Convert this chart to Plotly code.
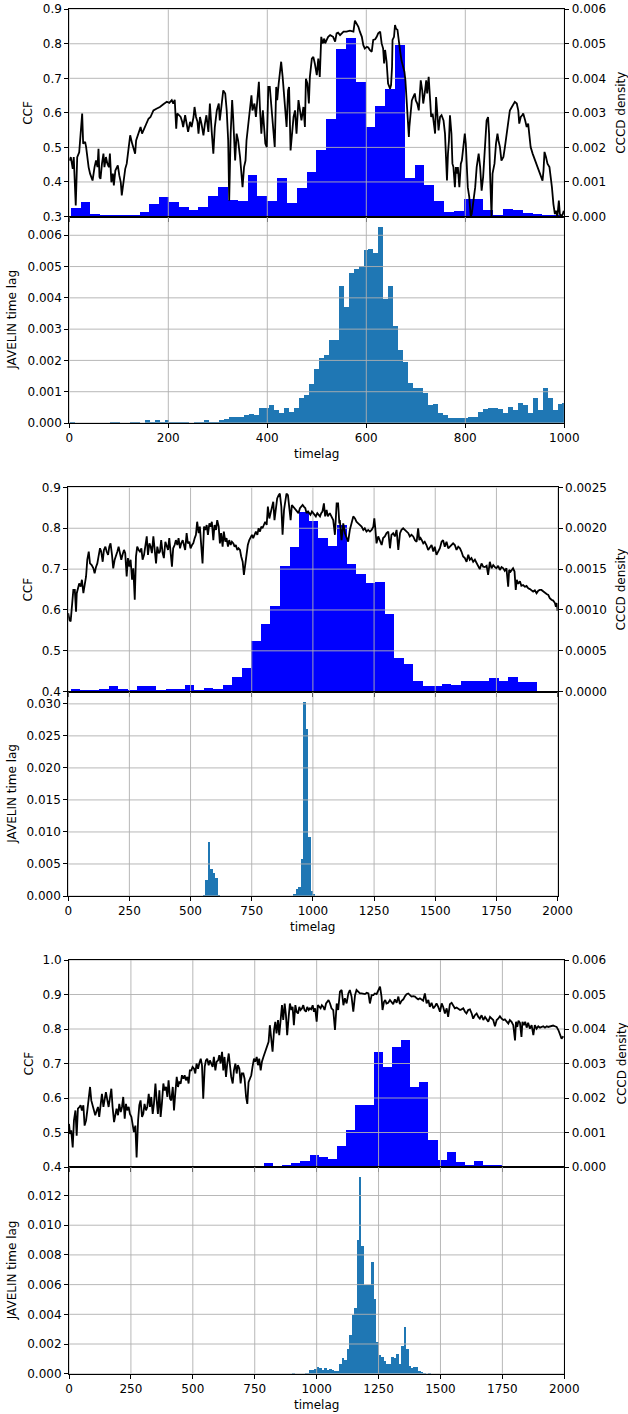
import plotly.graph_objects as go

W, H = 628, 1414
FONT = "DejaVu Sans"

# ======================= DATA =======================
# ---- Panel 1 : CCF (lag, value) ----
ccf1 = [(0,0.462),(3,0.472),(7,0.438),(9,0.472),(13,0.332),(16,0.472),(20,0.486),(23,0.549),(26,0.598),(28,0.511),
(32,0.516),(34,0.501),(36,0.472),(39,0.443),(42,0.424),(45,0.409),(47,0.404),(51,0.443),(54,0.462),(57,0.443),
(59,0.496),(61,0.414),(63,0.409),(66,0.453),(69,0.482),(71,0.443),(74,0.472),(77,0.453),(80,0.443),(82,0.482),
(85,0.399),(88,0.424),(90,0.390),(93,0.433),(96,0.443),(98,0.448),(101,0.419),(104,0.399),(106,0.361),(109,0.399),
(113,0.438),(116,0.453),(119,0.482),(123,0.535),(127,0.511),(129,0.501),(133,0.482),(135,0.520),(137,0.530),(141,0.549),
(144,0.559),(147,0.540),(150,0.549),(153,0.559),(156,0.569),(160,0.583),(164,0.588),(170,0.607),(176,0.612),(183,0.617),
(190,0.625),(197,0.632),(202,0.629),(207,0.637),(210,0.627),(213,0.638),(216,0.554),(218,0.598),(222,0.593),(225,0.588),
(228,0.574),(230,0.559),(234,0.593),(237,0.569),(240,0.545),(244,0.574),(247,0.559),(251,0.588),(253,0.617),(256,0.588),
(259,0.574),(261,0.540),(264,0.588),(267,0.569),(271,0.535),(274,0.569),(277,0.593),(281,0.545),(284,0.627),(288,0.540),
(291,0.482),(294,0.559),(298,0.607),(302,0.627),(304,0.578),(308,0.627),(311,0.665),(315,0.656),(318,0.607),(321,0.520),
(323,0.346),(326,0.540),(329,0.637),(331,0.588),(335,0.462),(338,0.540),(341,0.520),(345,0.472),(348,0.424),(350,0.385),
(353,0.443),(356,0.462),(358,0.520),(362,0.569),(365,0.607),(368,0.651),(370,0.607),(374,0.627),(377,0.588),(380,0.637),
(383,0.690),(385,0.617),(388,0.540),(391,0.607),(393,0.559),(396,0.511),(399,0.501),(402,0.675),(405,0.675),(409,0.598),
(412,0.559),(415,0.501),(418,0.675),(420,0.637),(423,0.685),(426,0.714),(428,0.748),(431,0.704),(434,0.637),(436,0.607),
(439,0.559),(442,0.665),(444,0.675),(447,0.491),(450,0.549),(453,0.588),(456,0.607),(459,0.540),(463,0.637),(466,0.607),
(469,0.578),(473,0.617),(476,0.559),(478,0.699),(481,0.685),(484,0.627),(486,0.704),(490,0.757),(493,0.762),(496,0.743),
(500,0.709),(503,0.757),(506,0.704),(509,0.820),(512,0.801),(515,0.815),(517,0.801),(520,0.811),(523,0.820),
(527,0.825),(533,0.820),(537,0.806),(540,0.830),(543,0.832),(547,0.825),(554,0.835),(560,0.835),(567,0.838),(574,0.835),
(577,0.867),(580,0.859),(584,0.849),(587,0.835),(591,0.820),(594,0.796),(597,0.786),(601,0.791),(604,0.789),(607,0.782),
(611,0.777),(614,0.811),(618,0.813),(621,0.820),(624,0.830),(628,0.835),(631,0.801),(634,0.786),(636,0.743),(638,0.782),
(641,0.748),(644,0.685),(648,0.670),(650,0.680),(652,0.733),(653,0.811),(656,0.820),(658,0.854),(660,0.844),(663,0.840),
(665,0.811),(668,0.782),(671,0.752),(675,0.733),(677,0.719),(679,0.694),(682,0.607),(684,0.578),(686,0.530),(687,0.559),
(690,0.607),(692,0.636),(695,0.646),(698,0.656),(700,0.636),(703,0.627),(706,0.607),(708,0.646),(710,0.694),(713,0.665),
(715,0.627),(718,0.656),(721,0.694),(723,0.656),(726,0.704),(729,0.636),(731,0.588),(734,0.598),(737,0.559),(739,0.540),
(741,0.646),(743,0.598),(746,0.549),(749,0.588),(752,0.593),(756,0.578),(759,0.540),(761,0.472),(763,0.404),(765,0.482),
(767,0.520),(769,0.593),(772,0.540),(774,0.453),(776,0.443),(779,0.385),(781,0.443),(783,0.424),(785,0.443),(788,0.385),
(791,0.453),(793,0.462),(796,0.501),(799,0.540),(801,0.511),(803,0.424),(805,0.385),(808,0.356),(811,0.300),(813,0.307),
(816,0.346),(818,0.356),(820,0.385),(823,0.443),(825,0.472),(827,0.482),(830,0.443),(833,0.375),(836,0.414),(840,0.491),
(843,0.578),(846,0.588),(848,0.540),(850,0.424),(853,0.300),(855,0.424),(857,0.443),(859,0.453),(862,0.511),(865,0.540),
(867,0.520),(870,0.501),(873,0.462),(877,0.472),(880,0.501),(884,0.540),(887,0.569),(890,0.607),(894,0.617),(897,0.627),
(900,0.632),(904,0.627),(907,0.607),(909,0.569),(912,0.588),(915,0.593),(917,0.598),(921,0.578),(924,0.559),(927,0.569),
(929,0.540),(932,0.501),(936,0.482),(941,0.462),(946,0.443),(951,0.424),(956,0.404),(958,0.433),(960,0.487),(963,0.472),
(966,0.453),(970,0.443),(972,0.424),(975,0.385),(978,0.336),(981,0.307),(983,0.317),(986,0.300),(989,0.346),(991,0.307),
(994,0.300),(997,0.307),(999,0.317)]
ccf1_lag = [p[0] for p in ccf1]
ccf1_val = [p[1] for p in ccf1]

# CCCD histogram, panel 1 (50 bins)
cccd1_start, cccd1_width = 3.5, 19.85
cccd1_density = [0.000246,0.00042,0.00007,0.00004,0.00001,0.00004,0.00004,0.00013,0.00036,0.00056,
0.00042,0.00027,0.00019,0.00027,0.00059,0.00085,0.00048,0.00045,0.0012,0.00059,
0.00045,0.00111,0.00039,0.00082,0.00129,0.00192,0.00283,0.00485,0.00517,0.0039,
0.00259,0.0032,0.00368,0.00497,0.00111,0.00149,0.00091,0.00045,0.00013,0.00016,
0.00051,0.00051,0.00019,0.00002,0.00022,0.00019,0.0001,0.00007,0.00002,0.00002]

# JAVELIN histogram, panel 1 (100 bins)
jav1_start, jav1_width = 2.0, 10.05
jav1_density = [0.00006,0,0,0,0,0,0,0,0.00003,0.00003,
0.00001,0,0.00003,0.00003,0.00001,0.0001,0.00003,0.0001,0.00006,0.0001,
0.00006,0.00003,0.00006,0.00003,0.00001,0.00003,0.00006,0.0001,0.00006,0.00006,
0.0001,0.00013,0.00022,0.00022,0.00022,0.00026,0.00029,0.00026,0.00048,0.00051,
0.00058,0.00042,0.00035,0.00048,0.00038,0.00048,0.00083,0.0009,0.00125,0.00173,
0.00208,0.0022,0.00268,0.00268,0.00438,0.00371,0.00482,0.00495,0.00502,0.00553,
0.00559,0.00546,0.00629,0.00399,0.00438,0.00313,0.00236,0.00198,0.00128,0.00115,
0.00112,0.00096,0.00058,0.00061,0.00032,0.00026,0.00016,0.00016,0.00016,0.00019,
0.00022,0.00022,0.00038,0.00045,0.00048,0.00051,0.00045,0.00032,0.00054,0.00042,
0.00064,0.00058,0.00035,0.00083,0.00042,0.00112,0.00083,0.00042,0.00061,0.00064]

# ---- Panel 2 : CCF ----
ccf2 = [(0,0.592),(5,0.576),(10,0.572),(16,0.625),(21,0.649),(27,0.649),(32,0.596),(35,0.641),(40,0.657),(45,0.665),
(51,0.657),(56,0.674),(62,0.641),(67,0.665),(73,0.682),(78,0.723),(84,0.743),(89,0.714),(96,0.710),(103,0.702),
(108,0.690),(114,0.706),(119,0.714),(124,0.731),(130,0.751),(135,0.743),(141,0.718),(146,0.747),(152,0.755),(157,0.743),
(163,0.735),(168,0.755),(173,0.763),(179,0.735),(184,0.702),(190,0.723),(195,0.731),(201,0.743),(206,0.755),(212,0.731),
(217,0.723),(222,0.735),(228,0.747),(233,0.739),(239,0.682),(244,0.727),(250,0.706),(255,0.723),(261,0.674),(266,0.702),
(272,0.625),(277,0.731),(282,0.755),(288,0.747),(293,0.743),(299,0.751),(304,0.723),(310,0.735),(315,0.763),(321,0.780),
(326,0.735),(332,0.763),(337,0.755),(342,0.739),(348,0.780),(353,0.743),(359,0.714),(364,0.755),(370,0.739),(375,0.743),
(380,0.771),(386,0.739),(391,0.727),(397,0.767),(402,0.759),(408,0.747),(413,0.776),(419,0.735),(424,0.706),(429,0.751),
(435,0.759),(440,0.771),(446,0.759),(451,0.776),(457,0.751),(462,0.763),(468,0.771),(473,0.759),(478,0.747),(484,0.788),
(489,0.763),(495,0.767),(500,0.751),(506,0.759),(511,0.763),(517,0.776),(522,0.784),(527,0.816),(533,0.788),(538,0.804),
(544,0.751),(549,0.714),(555,0.804),(560,0.796),(566,0.808),(571,0.784),(577,0.812),(582,0.804),(587,0.816),(593,0.771),
(598,0.808),(604,0.796),(609,0.820),(615,0.804),(620,0.763),(625,0.788),(631,0.755),(636,0.792),(642,0.767),(647,0.776),
(653,0.755),(658,0.771),(664,0.759),(669,0.767),(675,0.763),(680,0.755),(685,0.759),(691,0.747),(696,0.751),(702,0.747),
(707,0.731),(713,0.718),(718,0.686),(724,0.714),(729,0.743),(734,0.759),(740,0.771),(745,0.776),(751,0.784),(756,0.776),
(762,0.788),(767,0.792),(773,0.784),(778,0.800),(784,0.792),(789,0.804),(794,0.800),(800,0.812),(805,0.816),(811,0.808),
(816,0.853),(822,0.824),(827,0.837),(832,0.857),(838,0.865),(843,0.820),(849,0.857),(854,0.873),(860,0.881),(865,0.885),
(871,0.853),(876,0.784),(882,0.845),(887,0.869),(892,0.885),(898,0.881),(903,0.849),(909,0.820),(914,0.857),(920,0.853),
(925,0.849),(931,0.845),(936,0.841),(941,0.837),(947,0.849),(952,0.853),(958,0.857),(963,0.853),(969,0.849),(974,0.837),
(980,0.841),(985,0.837),(990,0.833),(996,0.841),(1001,0.837),(1007,0.833),(1012,0.829),(1018,0.837),(1023,0.833),(1029,0.829),
(1034,0.837),(1039,0.841),(1045,0.861),(1050,0.829),(1056,0.845),(1061,0.829),
(1069,0.837),(1076,0.829),(1083,0.820),(1090,0.784),(1097,0.861),(1103,0.861),(1108,0.812),(1110,0.820),(1117,0.771),(1124,0.812),
(1131,0.788),(1138,0.776),(1144,0.767),(1151,0.796),(1158,0.816),(1165,0.829),(1172,0.824),(1178,0.816),(1185,0.812),(1192,0.808),
(1199,0.804),(1206,0.796),(1212,0.800),(1219,0.792),(1226,0.796),(1233,0.792),(1240,0.796),(1247,0.804),(1251,0.824),(1255,0.800),
(1260,0.763),(1267,0.780),(1274,0.767),(1281,0.759),(1287,0.776),(1294,0.780),(1301,0.788),(1308,0.792),(1315,0.751),(1321,0.784),
(1328,0.788),(1335,0.780),(1342,0.796),(1349,0.747),(1356,0.788),(1362,0.796),(1369,0.800),(1376,0.796),(1383,0.792),(1390,0.788),
(1396,0.780),(1403,0.784),(1410,0.780),(1417,0.771),(1424,0.767),(1430,0.800),(1435,0.771),(1440,0.776),(1445,0.771),(1451,0.763),
(1457,0.767),(1464,0.759),(1471,0.747),(1478,0.755),(1485,0.759),(1492,0.743),(1498,0.755),(1505,0.735),(1512,0.743),(1519,0.751),
(1526,0.767),(1532,0.771),(1539,0.755),(1546,0.767),(1553,0.751),(1560,0.755),(1566,0.759),(1573,0.763),(1580,0.759),(1587,0.747),
(1594,0.755),(1601,0.751),(1607,0.743),(1614,0.731),(1621,0.727),(1628,0.718),(1635,0.735),(1641,0.723),(1648,0.727),(1655,0.718),
(1662,0.723),(1669,0.714),(1675,0.710),(1682,0.700),(1689,0.714),(1696,0.706),(1703,0.705),(1710,0.708),(1716,0.686),(1723,0.718),
(1730,0.702),(1737,0.710),(1744,0.705),(1750,0.702),(1757,0.708),(1764,0.698),(1771,0.705),(1778,0.702),(1784,0.696),(1791,0.702),
(1798,0.657),(1802,0.698),(1808,0.694),(1813,0.698),(1818,0.702),(1824,0.694),(1829,0.649),(1833,0.674),(1839,0.664),(1846,0.670),
(1852,0.659),(1859,0.661),(1866,0.657),(1873,0.659),(1880,0.653),(1887,0.651),(1893,0.649),(1900,0.645),(1907,0.648),(1914,0.641),
(1921,0.647),(1927,0.649),(1934,0.649),(1941,0.645),(1948,0.641),(1955,0.639),(1962,0.637),(1968,0.629),(1975,0.625),(1982,0.623),
(1989,0.617),(1993,0.608),(1997,0.617),(2000,0.598)]
ccf2_lag = [p[0] for p in ccf2]
ccf2_val = [p[1] for p in ccf2]

# CCCD histogram, panel 2 (49 bins)
cccd2_start, cccd2_width = 11.4, 38.86
cccd2_density = [0.000033,0.00002,0.00001,0.000033,0.00007,0.000033,0.00002,0.00007,0.00007,0.00002,
0.000033,0.000033,0.00008,0.00002,0.000045,0.000033,0.00008,0.00018,0.00028,0.00062,
0.00082,0.00104,0.00153,0.00177,0.0022,0.00208,0.00187,0.00178,0.00204,0.00156,
0.00144,0.00132,0.00134,0.00094,0.00041,0.00033,0.00013,0.00007,0.00007,0.00009,
0.00008,0.00012,0.00013,0.00013,0.00016,0.00013,0.00018,0.00011,0.00011]

# JAVELIN histogram, panel 2 (non-empty bins: left edge, density)
jav2_width = 10.0
jav2_edges = [551,561,571,581,591,601,611, 921,931,941,951,961,971,981,991,1001]
jav2_density = [0.00016,0.00261,0.00841,0.00434,0.0036,0.00293,0.0001,
                0.00037,0.00115,0.00146,0.0059,0.03036,0.02612,0.0092,0.00089,0.00042]

# ---- Panel 3 : CCF ----
ccf3 = [(0,0.525),(4,0.496),(9,0.506),(15,0.457),(20,0.535),(26,0.564),(31,0.491),(36,0.569),(42,0.574),(47,0.579),
(52,0.564),(58,0.579),(63,0.520),(69,0.535),(74,0.564),(79,0.603),(85,0.632),(90,0.593),(96,0.574),(101,0.564),
(106,0.550),(112,0.564),(117,0.574),(122,0.545),(128,0.583),(133,0.612),(139,0.574),(144,0.598),(149,0.617),(155,0.593),
(160,0.574),(166,0.603),(171,0.627),(176,0.574),(182,0.530),(187,0.550),(192,0.569),(198,0.550),(203,0.583),(209,0.559),
(214,0.574),(219,0.603),(225,0.540),(230,0.583),(235,0.564),(241,0.574),(246,0.554),(252,0.545),(257,0.516),(262,0.501),
(268,0.520),(273,0.428),(279,0.535),(284,0.579),(289,0.593),(295,0.545),(300,0.554),(305,0.583),(311,0.564),(316,0.574),
(322,0.612),(327,0.574),(332,0.603),(338,0.554),(343,0.583),(349,0.642),(354,0.593),(359,0.554),(365,0.622),(370,0.545),
(375,0.583),(381,0.642),(386,0.622),(392,0.632),(397,0.603),(402,0.651),(408,0.598),(413,0.593),(419,0.632),(424,0.564),
(429,0.612),(435,0.661),(440,0.632),(445,0.646),(451,0.642),(456,0.666),(462,0.656),(467,0.666),(472,0.651),(478,0.661),
(483,0.642),(488,0.680),(494,0.680),(499,0.690),(505,0.685),(510,0.671),(515,0.700),(521,0.685),(526,0.700),(532,0.714),
(537,0.695),(542,0.598),(548,0.690),(553,0.709),(558,0.714),(564,0.695),(569,0.709),(575,0.700),(580,0.690),(585,0.719),
(591,0.680),(596,0.705),(602,0.709),(607,0.724),(612,0.700),(618,0.734),(623,0.680),(628,0.719),(634,0.661),(639,0.700),
(645,0.729),(650,0.695),(655,0.661),(661,0.642),(666,0.680),(672,0.700),(677,0.671),(682,0.695),(688,0.685),(693,0.642),
(698,0.671),(704,0.671),(709,0.656),(715,0.603),(720,0.583),(725,0.646),(731,0.661),(736,0.666),(741,0.690),(747,0.714),
(752,0.705),(758,0.719),(763,0.695),(768,0.714),(774,0.680),(779,0.705),(785,0.719),(790,0.729),(795,0.738),(801,0.753),
(806,0.763),(811,0.811),(817,0.772),(822,0.734),(828,0.797),(833,0.821),(838,0.787),(844,0.826),(849,0.782),(855,0.835),
(860,0.869),(865,0.826),(871,0.874),(876,0.840),(881,0.782),(887,0.835),(892,0.874),(898,0.855),(903,0.864),(908,0.811),
(914,0.869),(919,0.850),(925,0.845),(930,0.864),(935,0.855),(941,0.860),(946,0.869),(951,0.855),(957,0.850),(962,0.864),
(968,0.855),(973,0.860),(978,0.857),(984,0.869),(989,0.850),(994,0.860),(1000,0.821),(1005,0.869),(1011,0.864),(1016,0.860),
(1021,0.869),(1027,0.864),(1032,0.855),(1038,0.874),(1043,0.879),(1048,0.884),
(1054,0.874),(1060,0.860),(1067,0.855),(1074,0.797),(1081,0.874),(1087,0.855),(1094,0.908),(1101,0.913),(1108,0.869),(1114,0.889),
(1121,0.874),(1128,0.903),(1134,0.913),(1141,0.894),(1148,0.850),(1155,0.898),(1161,0.913),(1168,0.908),(1175,0.903),(1182,0.903),
(1188,0.903),(1195,0.901),(1202,0.905),(1209,0.903),(1215,0.874),(1222,0.898),(1229,0.898),(1235,0.903),(1242,0.901),(1249,0.913),
(1256,0.923),(1262,0.894),(1266,0.855),(1272,0.879),(1277,0.884),(1282,0.874),(1289,0.876),(1296,0.884),(1303,0.879),(1309,0.872),
(1316,0.886),(1323,0.876),(1330,0.894),(1336,0.872),(1343,0.882),(1350,0.886),(1356,0.894),(1363,0.901),(1370,0.903),(1377,0.898),
(1383,0.894),(1390,0.895),(1397,0.894),(1404,0.889),(1410,0.886),(1417,0.889),(1424,0.884),(1430,0.882),(1437,0.903),(1444,0.874),
(1451,0.884),(1457,0.864),(1464,0.876),(1471,0.860),(1478,0.866),(1484,0.874),(1491,0.864),(1498,0.850),(1505,0.874),(1511,0.864),
(1518,0.845),(1525,0.860),(1531,0.835),(1538,0.872),(1545,0.876),(1552,0.869),(1558,0.860),(1565,0.862),(1572,0.857),(1579,0.855),
(1585,0.857),(1592,0.860),(1599,0.850),(1605,0.845),(1612,0.855),(1619,0.857),(1626,0.845),(1632,0.830),(1639,0.840),(1646,0.845),
(1653,0.835),(1659,0.830),(1666,0.840),(1673,0.826),(1680,0.835),(1686,0.830),(1693,0.821),(1700,0.835),(1706,0.830),(1713,0.826),
(1720,0.808),(1727,0.826),(1733,0.830),(1740,0.837),(1747,0.830),(1754,0.826),(1760,0.828),(1767,0.821),(1774,0.816),(1780,0.826),
(1787,0.821),(1794,0.811),(1801,0.767),(1805,0.821),(1810,0.806),(1815,0.824),(1821,0.818),(1827,0.777),(1831,0.821),(1837,0.811),
(1842,0.821),(1848,0.804),(1854,0.818),(1861,0.801),(1868,0.811),(1875,0.782),(1881,0.811),(1888,0.801),(1895,0.808),(1902,0.804),
(1908,0.806),(1915,0.808),(1922,0.804),(1929,0.808),(1935,0.806),(1942,0.808),(1949,0.808),(1955,0.810),(1962,0.808),(1969,0.806),
(1976,0.797),(1982,0.782),(1989,0.772),(1996,0.779)]
ccf3_lag = [p[0] for p in ccf3]
ccf3_val = [p[1] for p in ccf3]

# CCCD histogram, panel 3 (30 bins)
cccd3_start, cccd3_width = 787.0, 36.9
cccd3_density = [0.00012,0.0,0.00006,0.00012,0.00017,0.00035,0.00029,0.00023,0.00061,0.00107,
0.0018,0.0018,0.00334,0.0029,0.00348,0.00367,0.00232,0.00246,0.00078,0.0002,
0.00043,0.00014,0.00005,0.00017,0.00005,0.00005,0.0,0.0,0.00002,0.0]

# JAVELIN histogram, panel 3 (non-empty bins: left edge, density)
jav3_width = 10.0
jav3_edges = [901,951,961,971,981,991,1001,1011,1021,1031,1041,1051,1061,1071,1081,1091,1101,1111,1121,1131,
1141,1151,1161,1171,1181,1191,1201,1211,1221,1231,1241,1251,1261,1271,1281,1291,1301,1311,1321,1331,
1341,1351,1361,1371,1381,1391,1401,1411,1421,1431,1451]
jav3_density = [0.00002,0.00002,0.00004,0.00027,0.00022,0.00029,0.00043,0.00038,0.00027,0.00036,
0.00022,0.00029,0.00022,0.00018,0.00018,0.00063,0.00103,0.0009,0.00164,0.00258,
0.00393,0.00443,0.00899,0.01326,0.00858,0.00595,0.00595,0.00598,0.0075,0.00503,
0.00211,0.00124,0.0011,0.00083,0.00067,0.00063,0.0011,0.00103,0.0013,0.00063,
0.00184,0.00312,0.00164,0.00049,0.00038,0.00043,0.00043,0.00016,0.00007,0.00002,0.00002]

# ---- ticks ----
xticks1 = [0, 200, 400, 600, 800, 1000]
xticks23 = [0, 250, 500, 750, 1000, 1250, 1500, 1750, 2000]
ccf_ticks1 = [0.3, 0.4, 0.5, 0.6, 0.7, 0.8, 0.9]
ccf_ticks2 = [0.4, 0.5, 0.6, 0.7, 0.8, 0.9]
ccf_ticks3 = [0.4, 0.5, 0.6, 0.7, 0.8, 0.9, 1.0]
cccd_ticks1 = [0.0, 0.001, 0.002, 0.003, 0.004, 0.005, 0.006]
cccd_ticks2 = [0.0, 0.0005, 0.001, 0.0015, 0.002, 0.0025]
cccd_ticks3 = [0.0, 0.001, 0.002, 0.003, 0.004, 0.005, 0.006]
jav_ticks1 = [0.0, 0.001, 0.002, 0.003, 0.004, 0.005, 0.006]
jav_ticks2 = [0.0, 0.005, 0.010, 0.015, 0.020, 0.025, 0.030]
jav_ticks3 = [0.0, 0.002, 0.004, 0.006, 0.008, 0.010, 0.012]

# ======================= FIGURE =======================
fig = go.Figure()
GRID = "#b0b0b0"


def grid_trace(xt, yt, xr, yr, xa, ya):
    xs, ys = [], []
    for t in xt:
        xs += [t, t, None]
        ys += [yr[0], yr[1], None]
    for t in yt:
        xs += [xr[0], xr[1], None]
        ys += [t, t, None]
    return go.Scatter(x=xs, y=ys, mode="lines", line=dict(color=GRID, width=0.9),
                      xaxis=xa, yaxis=ya, hoverinfo="skip", showlegend=False)


def hist_bars(edges, width, vals, color, xa, ya):
    return go.Bar(x=edges, y=vals, width=[width] * len(vals), offset=0,
                  marker=dict(color=color, line=dict(width=0)),
                  xaxis=xa, yaxis=ya, hoverinfo="skip", showlegend=False)


def even_edges(start, width, n):
    return [start + width * i for i in range(n)]


panels = [
    dict(xpx=(69.3, 564.3), top=(9.2, 216.5), bot=(216.5, 423.0), xr=[0, 1000], xt=xticks1,
         ccf=(ccf1_lag, ccf1_val), ccfr=[0.3, 0.9], ccft=ccf_ticks1,
         cccd=(even_edges(cccd1_start, cccd1_width, len(cccd1_density)), cccd1_width, cccd1_density),
         cccdr=[0, 0.006], cccdt=cccd_ticks1, cccdfmt=".3f",
         jav=(even_edges(jav1_start, jav1_width, len(jav1_density)), jav1_width, jav1_density),
         javr=[0, 0.0066], javt=jav_ticks1, tl_y=454),
    dict(xpx=(68.2, 557.6), top=(487.4, 691.7), bot=(691.7, 896.0), xr=[0, 2000], xt=xticks23,
         ccf=(ccf2_lag, ccf2_val), ccfr=[0.4, 0.9], ccft=ccf_ticks2,
         cccd=(even_edges(cccd2_start, cccd2_width, len(cccd2_density)), cccd2_width, cccd2_density),
         cccdr=[0, 0.0025], cccdt=cccd_ticks2, cccdfmt=".4f",
         jav=(jav2_edges, jav2_width, jav2_density),
         javr=[0, 0.0319], javt=jav_ticks2, tl_y=927),
    dict(xpx=(69.0, 564.3), top=(960.0, 1167.0), bot=(1167.0, 1373.7), xr=[0, 2000], xt=xticks23,
         ccf=(ccf3_lag, ccf3_val), ccfr=[0.4, 1.0], ccft=ccf_ticks3,
         cccd=(even_edges(cccd3_start, cccd3_width, len(cccd3_density)), cccd3_width, cccd3_density),
         cccdr=[0, 0.006], cccdt=cccd_ticks3, cccdfmt=".3f",
         jav=(jav3_edges, jav3_width, jav3_density),
         javr=[0, 0.01392], javt=jav_ticks3, tl_y=1405),
]

tickfont = dict(family=FONT, size=12, color="black")
base_ax = dict(showline=True, linecolor="black", linewidth=1, mirror=True, ticks="outside",
               ticklen=4, tickwidth=1, tickcolor="black", showgrid=False, zeroline=False,
               tickfont=tickfont, fixedrange=True, automargin=False)

layout = dict(width=W, height=H, margin=dict(l=0, r=0, t=0, b=0, pad=0, autoexpand=False),
              paper_bgcolor="white", plot_bgcolor="white", showlegend=False,
              font=dict(family=FONT, size=12, color="black"), annotations=[])


def label(text, px, py, angle=0):
    return dict(text=text, x=px / W, y=1 - py / H, xref="paper", yref="paper",
                showarrow=False, textangle=angle, xanchor="center", yanchor="middle",
                font=dict(family=FONT, size=12, color="black"))


for i, p in enumerate(panels):
    xa_top = 2 * i + 1
    xa_bot = 2 * i + 2
    ya_cccd = 3 * i + 1
    ya_ccf = 3 * i + 2
    ya_jav = 3 * i + 3
    xd = [p["xpx"][0] / W, p["xpx"][1] / W]
    top_dom = [1 - p["top"][1] / H, 1 - p["top"][0] / H]
    bot_dom = [1 - p["bot"][1] / H, 1 - p["bot"][0] / H]

    def nm(prefix, k):
        return prefix + ("" if k == 1 else str(k))

    xt_name, xb_name = nm("x", xa_top), nm("x", xa_bot)
    yc_name, yf_name, yj_name = nm("y", ya_cccd), nm("y", ya_ccf), nm("y", ya_jav)

    layout[nm("xaxis", xa_top)] = dict(base_ax, domain=xd, range=p["xr"], tickvals=p["xt"],
                                       showticklabels=False, anchor=yc_name)
    layout[nm("yaxis", ya_cccd)] = dict(base_ax, domain=top_dom, range=p["cccdr"], tickvals=p["cccdt"],
                                        tickformat=p["cccdfmt"], side="right", anchor=xt_name)
    layout[nm("yaxis", ya_ccf)] = dict(base_ax, range=p["ccfr"], tickvals=p["ccft"], tickformat=".1f",
                                       side="left", overlaying=yc_name, anchor=xt_name,
                                       showline=False, mirror=False)
    layout[nm("xaxis", xa_bot)] = dict(base_ax, domain=xd, range=p["xr"], tickvals=p["xt"],
                                       anchor=yj_name)
    layout[nm("yaxis", ya_jav)] = dict(base_ax, domain=bot_dom, range=p["javr"], tickvals=p["javt"],
                                       tickformat=".3f", anchor=xb_name)

    # top subplot: CCCD bars -> grid -> CCF line (overlay axis is drawn above)
    e, w, v = p["cccd"]
    fig.add_trace(hist_bars(e, w, v, "#0000ff", xt_name, yc_name))
    fig.add_trace(grid_trace(p["xt"], p["cccdt"], p["xr"], p["cccdr"], xt_name, yc_name))
    fig.add_trace(go.Scatter(x=p["ccf"][0], y=p["ccf"][1], mode="lines",
                             line=dict(color="black", width=1.8), xaxis=xt_name, yaxis=yf_name,
                             hoverinfo="skip", showlegend=False))
    # bottom subplot: JAVELIN bars -> grid
    e, w, v = p["jav"]
    fig.add_trace(hist_bars(e, w, v, "#1f77b4", xb_name, yj_name))
    fig.add_trace(grid_trace(p["xt"], p["javt"], p["xr"], p["javr"], xb_name, yj_name))

    ymid_top = (p["top"][0] + p["top"][1]) / 2
    ymid_bot = (p["bot"][0] + p["bot"][1]) / 2
    xmid = (p["xpx"][0] + p["xpx"][1]) / 2
    layout["annotations"] += [
        label("CCF", 28, ymid_top, -90),
        label("CCCD density", 621, ymid_top, -90),
        label("JAVELIN time lag", 12, ymid_bot, -90),
        label("timelag", xmid, p["tl_y"]),
    ]

fig.update_layout(**layout)
fig.update_layout(bargap=0, barmode="overlay")
fig.write_html("out.html")
